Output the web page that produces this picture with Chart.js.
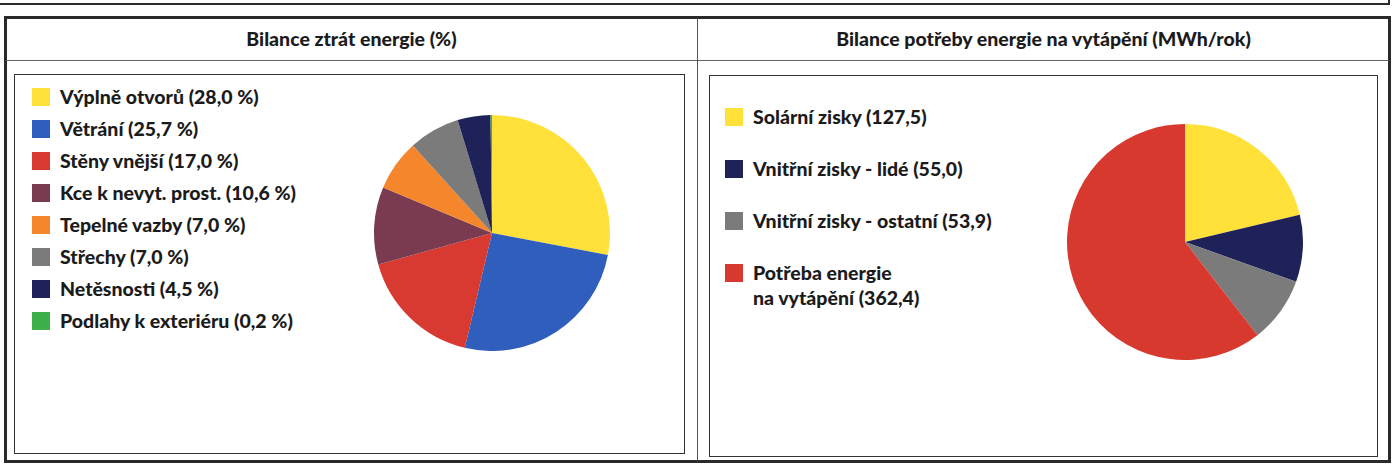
<!DOCTYPE html>
<html lang="cs">
<head>
<meta charset="utf-8">
<title>Bilance</title>
<script src="https://cdn.jsdelivr.net/npm/chart.js@4.4.1/dist/chart.umd.min.js"></script>
<style>
  html, body { margin: 0; padding: 0; background: #fff; }
  body { width: 1394px; height: 471px; position: relative; overflow: hidden;
         font-family: Lato, "Open Sans", sans-serif; font-weight: 900; color: #1b1b1b; }
  .line { position: absolute; background: #2a2a2a; }
  .box { position: absolute; border: 1px solid #333; box-sizing: border-box; }
  .title { position: absolute; top: 17px; height: 43px; line-height: 43px; text-align: center; font-size: 19.5px; }
  .legend { position: absolute; }
  .item { position: absolute; white-space: nowrap; font-size: 19.5px; line-height: 22px; }
  .sw { position: absolute; width: 18px; height: 18px; }
  canvas { position: absolute; }
</style>
</head>
<body>
<!-- spodek predchozi tabulky -->
<div class="line" style="left:0;top:3px;width:1390px;height:2px"></div>
<div class="line" style="left:1388px;top:0;width:2px;height:5px"></div>

<!-- ramecek tabulky -->
<div class="box" style="left:4px;top:16px;width:1387px;height:447px;border:3px solid #2a2a2a"></div>
<div class="line" style="left:6px;top:60px;width:1383px;height:1px;background:#666"></div>
<div class="line" style="left:697px;top:18px;width:1px;height:443px;background:#555"></div>

<div class="title" style="left:6px;width:691px">Bilance ztrát energie (%)</div>
<div class="title" style="left:698px;width:691px">Bilance potřeby energie na vytápění (MWh/rok)</div>

<div class="box" style="left:14px;top:74px;width:671px;height:380px"></div>
<div class="box" style="left:709px;top:75px;width:669px;height:382px"></div>

<div id="legendLoss" class="legend"></div>
<div id="legendHeat" class="legend"></div>

<canvas id="chartLoss" width="236" height="236" style="left:374px;top:115px"></canvas>
<canvas id="chartHeat" width="236" height="236" style="left:1067px;top:124px"></canvas>

<script>
// Data - bilance ztrat energie (%)
const lossLabels = ['Výplně otvorů', 'Větrání', 'Stěny vnější', 'Kce k nevyt. prost.', 'Tepelné vazby', 'Střechy', 'Netěsnosti', 'Podlahy k exteriéru'];
const lossValues = [28.0, 25.7, 17.0, 10.6, 7.0, 7.0, 4.5, 0.2];
const lossColors = ['#ffe13a', '#2f5ebd', '#d83a31', '#7a3b50', '#f5862c', '#7b7b7b', '#1f2259', '#3daf4b'];

// Data - bilance potreby energie na vytapeni (MWh/rok)
const heatLabels = ['Solární zisky', 'Vnitřní zisky - lidé', 'Vnitřní zisky - ostatní', 'Potřeba energie\nna vytápění'];
const heatValues = [127.5, 55.0, 53.9, 362.4];
const heatColors = ['#ffe13a', '#1f2259', '#7b7b7b', '#d8392f'];

// format cisla s desetinnou carkou
function fmt(v) {
  return v.toFixed(1).replace('.', ',');
}

// Legenda jako HTML
function buildLegend(el, labels, values, colors, suffix, pos) {
  el.innerHTML = labels.map((lab, i) => {
    const y = pos.top + pos.step * i;
    const lines = (lab + ' (' + fmt(values[i]) + suffix + ')').split('\n');
    const text = lines.map((t, j) =>
      `<div class="item" style="left:${pos.textX}px;top:${y - 11 + j * 25}px">${t}</div>`).join('');
    return `<div class="sw" style="left:${pos.swX}px;top:${y - 9}px;background:${colors[i]}"></div>` + text;
  }).join('');
}

buildLegend(document.getElementById('legendLoss'), lossLabels, lossValues, lossColors, ' %',
  { top: 97, step: 32, swX: 32, textX: 60 });
buildLegend(document.getElementById('legendHeat'), heatLabels, heatValues, heatColors, '',
  { top: 117, step: 52, swX: 725, textX: 753 });

// Spolecne nastaveni kolacovych grafu
function pieOptions() {
  return {
    responsive: false,
    animation: false,
    layout: { padding: 0 },
    plugins: { legend: { display: false }, tooltip: { enabled: false } }
  };
}

new Chart(document.getElementById('chartLoss'), {
  type: 'pie',
  data: {
    labels: lossLabels,
    datasets: [{ data: lossValues, backgroundColor: lossColors, borderWidth: 0 }]
  },
  options: pieOptions()
});

new Chart(document.getElementById('chartHeat'), {
  type: 'pie',
  data: {
    labels: heatLabels,
    datasets: [{ data: heatValues, backgroundColor: heatColors, borderWidth: 0 }]
  },
  options: pieOptions()
});
</script>
</body>
</html>
